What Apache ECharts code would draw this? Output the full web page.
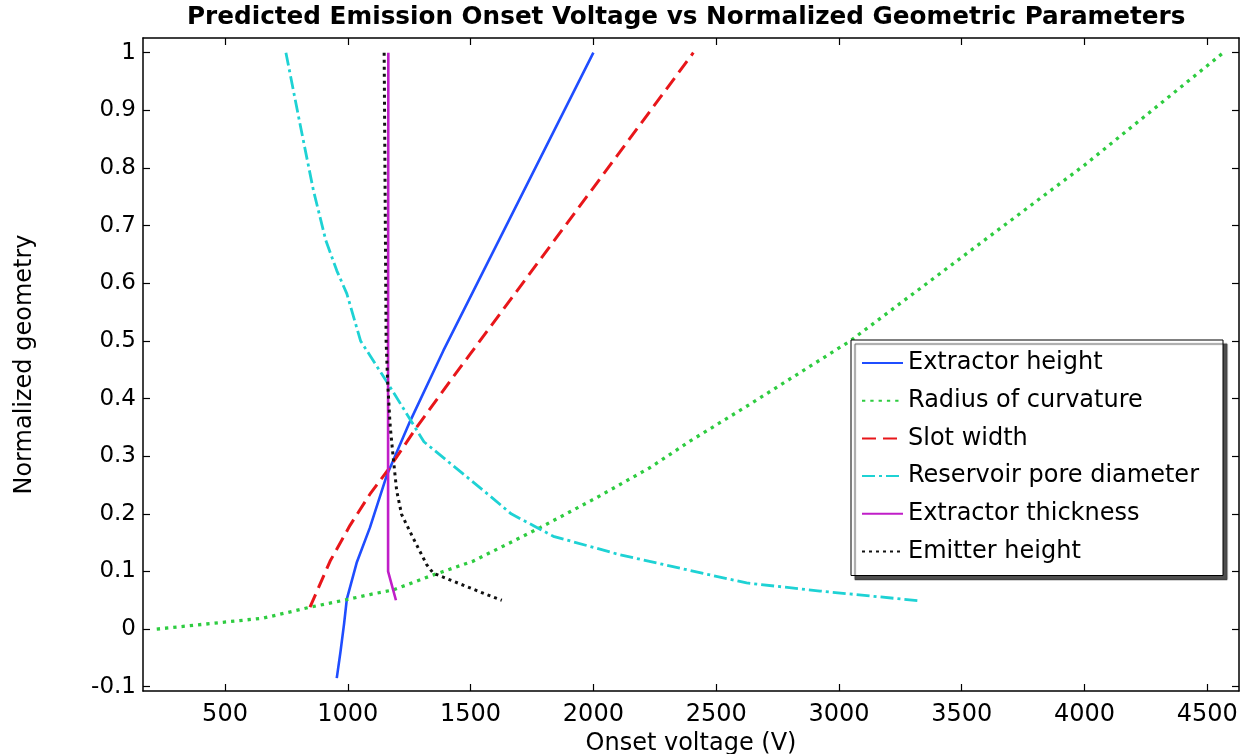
<!DOCTYPE html>
<html>
<head>
<meta charset="utf-8">
<script src="https://cdn.jsdelivr.net/npm/echarts@6/dist/echarts.min.js"></script>
<style>
html,body{margin:0;padding:0;background:#fff;}
#chart{width:1253px;height:754px;}
</style>
</head>
<body>
<div id="chart"></div>
<script>
// ---- data ----
const seriesNames = ['Extractor height', 'Radius of curvature', 'Slot width', 'Reservoir pore diameter', 'Extractor thickness', 'Emitter height'];

const extractorHeightV = [955, 970, 985, 996, 1036, 1090, 1158, 1253, 1389, 2000];
const extractorHeightY = [-0.085, -0.04, 0.01, 0.052, 0.115, 0.176, 0.266, 0.36, 0.483, 1.0];

const radiusV = [222, 656, 846, 995, 1090, 1185, 1335, 1511, 1783, 2013, 2230, 2393, 2637, 3046, 4000, 4565];
const radiusY = [0, 0.019, 0.038, 0.051, 0.06, 0.068, 0.092, 0.118, 0.176, 0.228, 0.28, 0.326, 0.39, 0.5, 0.805, 1.0];

const slotV = [846, 928, 1009, 1090, 1165, 1280, 1416, 1498, 2407];
const slotY = [0.038, 0.118, 0.18, 0.234, 0.277, 0.35, 0.43, 0.477, 1.0];

const poreV = [748, 805, 860, 910, 955, 996, 1052, 1165, 1310, 1579, 1665, 1837, 2108, 2380, 2624, 2923, 3330];
const poreY = [1.0, 0.877, 0.761, 0.675, 0.622, 0.582, 0.5, 0.425, 0.325, 0.231, 0.2, 0.161, 0.129, 0.103, 0.08, 0.066, 0.049];

const thicknessV = [1165, 1164, 1164, 1196];
const thicknessY = [1.0, 0.5, 0.1, 0.05];

const emitterV = [1148, 1156, 1162, 1172, 1185, 1199, 1219, 1266, 1321, 1348, 1565, 1627];
const emitterY = [1.0, 0.5, 0.431, 0.355, 0.297, 0.24, 0.199, 0.158, 0.112, 0.097, 0.06, 0.05];

const xTicks = [500, 1000, 1500, 2000, 2500, 3000, 3500, 4000, 4500];
const yTicks = [-0.1, 0, 0.1, 0.2, 0.3, 0.4, 0.5, 0.6, 0.7, 0.8, 0.9, 1];

const X_MIN = 166, X_MAX = 4629, Y_MIN = -0.1074, Y_MAX = 1.0255;

function pairs(xs, ys) { return xs.map((x, i) => [x, ys[i]]); }

const FONT = 'DejaVu Sans';

const styles = [
  { color: '#1f4dff', type: 'solid', width: 2.6 },
  { color: '#2ecc40', type: [3.3, 5], width: 3.3 },
  { color: '#e8161a', type: [14, 7], width: 3 },
  { color: '#1ed2d4', type: [13, 4, 3, 4], width: 2.8 },
  { color: '#c01ec8', type: 'solid', width: 2.6 },
  { color: '#111111', type: [3, 4], width: 3 }
];
const datas = [
  pairs(extractorHeightV, extractorHeightY),
  pairs(radiusV, radiusY),
  pairs(slotV, slotY),
  pairs(poreV, poreY),
  pairs(thicknessV, thicknessY),
  pairs(emitterV, emitterY)
];

const chart = echarts.init(document.getElementById('chart'), null, { renderer: 'canvas' });

const axisLineStyle = { color: '#000', width: 1.5 };
const tickStyle = { color: '#000', width: 1.2 };

const option = {
  backgroundColor: '#fff',
  animation: false,
  title: {
    text: 'Predicted Emission Onset Voltage vs Normalized Geometric Parameters',
    left: 182, top: 0,
    textStyle: { fontFamily: FONT, fontWeight: 'bold', fontSize: 24.7, color: '#000' }
  },
  grid: { left: 143, top: 38, right: 14, bottom: 63, containLabel: false, outerBoundsMode: 'none' },
  legend: {
    orient: 'vertical',
    left: 851, top: 340,
    padding: [9, 24, 10, 10],
    itemWidth: 41, itemHeight: 14, itemGap: 9.7,
    backgroundColor: '#fff',
    borderColor: '#000', borderWidth: 1,
    shadowColor: 'rgba(60,60,60,0.9)', shadowBlur: 1, shadowOffsetX: 4, shadowOffsetY: 4,
    itemStyle: { opacity: 0 },
    textStyle: { fontFamily: FONT, fontSize: 24, color: '#000', lineHeight: 28 },
    data: seriesNames
  },
  xAxis: [
    {
      type: 'value', min: X_MIN, max: X_MAX, position: 'bottom',
      name: 'Onset voltage (V)', nameLocation: 'middle', nameGap: 36,
      nameTextStyle: { fontFamily: FONT, fontSize: 24, color: '#000', lineHeight: 24 },
      axisLine: { show: true, onZero: false, lineStyle: axisLineStyle },
      axisTick: { show: true, inside: true, length: 7, lineStyle: tickStyle, customValues: xTicks },
      axisLabel: { show: true, customValues: xTicks, margin: 12, fontFamily: FONT, fontSize: 24, color: '#000', formatter: v => String(v) },
      splitLine: { show: false }
    },
    {
      type: 'value', min: X_MIN, max: X_MAX, position: 'top',
      axisLine: { show: true, onZero: false, lineStyle: axisLineStyle },
      axisTick: { show: true, inside: true, length: 7, lineStyle: tickStyle, customValues: xTicks },
      axisLabel: { show: false },
      splitLine: { show: false }
    }
  ],
  yAxis: [
    {
      type: 'value', min: Y_MIN, max: Y_MAX, position: 'left',
      name: 'Normalized geometry', nameLocation: 'middle', nameGap: 106,
      nameTextStyle: { fontFamily: FONT, fontSize: 24, color: '#000' },
      axisLine: { show: true, onZero: false, lineStyle: axisLineStyle },
      axisTick: { show: true, inside: true, length: 7, lineStyle: tickStyle, customValues: yTicks },
      axisLabel: { show: true, customValues: yTicks, margin: 7, fontFamily: FONT, fontSize: 23, color: '#000', formatter: v => String(Math.round(v * 10) / 10) },
      splitLine: { show: false }
    },
    {
      type: 'value', min: Y_MIN, max: Y_MAX, position: 'right',
      axisLine: { show: true, onZero: false, lineStyle: axisLineStyle },
      axisTick: { show: true, inside: true, length: 7, lineStyle: tickStyle, customValues: yTicks },
      axisLabel: { show: false },
      splitLine: { show: false }
    }
  ],
  series: seriesNames.map((name, i) => ({
    name: name,
    type: 'line',
    xAxisIndex: 0, yAxisIndex: 0,
    data: datas[i],
    showSymbol: false, symbol: 'none',
    smooth: false,
    clip: true,
    lineStyle: { color: styles[i].color, type: styles[i].type, width: styles[i].width, cap: 'butt' },
    itemStyle: { color: styles[i].color },
    emphasis: { disabled: true }
  }))
};

chart.setOption(option);
</script>
</body>
</html>
